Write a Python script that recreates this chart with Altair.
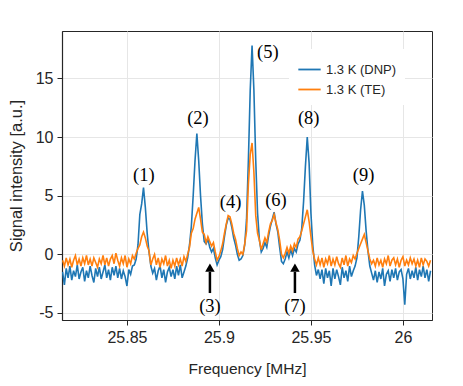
import altair as alt
import pandas as pd

# ---- data ----
freq_start = 25.815
freq_step = 0.001
n_points = 201
freq = [round(freq_start + i * freq_step, 4) for i in range(n_points)]

series_names = ["1.3 K (DNP)", "1.3 K (TE)"]
series_colors = ["#1f77b4", "#ff7f0e"]

dnp = (
    [-1.5, -2.6, -1.2, -2.0, -1.0, -2.2, -1.4, -1.9, -0.9, -2.1]
    + [-1.5, -1.1, -2.3, -1.4, -2.0, -1.0, -1.8, -2.4, -1.2, -1.9]
    + [-1.1, -2.1, -1.5, -0.9, -2.0, -1.3, -2.2, -1.1, -1.8, -1.0]
    + [-2.0, -1.2, -2.1, -1.4, -1.9, -2.7, -1.3, -1.7, -1.0, -0.9]
    + [-0.4, 0.8, 3.4, 4.3, 5.7, 4.0, 1.8, 0.2, -1.0, -1.6]
    + [-1.2, -2.2, -1.4, -1.0, -2.0, -1.3, -2.4, -1.5, -1.1, -1.9]
    + [-1.3, -2.1, -1.0, -1.8, -0.9, -2.0, -1.5, -1.0, -0.3, 0.8]
    + [2.4, 5.0, 8.0, 10.3, 8.0, 5.0, 2.6, 1.1, 0.9, 1.3]
    + [0.6, 0.2, 0.5, -0.3, -0.9, -0.5, -0.2, 0.4, 1.5, 2.5]
    + [3.1, 3.0, 2.3, 1.4, 0.8, 0.0, -0.5, -0.4, -0.1, 0.8]
    + [3.0, 8.0, 14.0, 17.8, 14.0, 8.0, 3.5, 1.2, 0.2, 0.5]
    + [1.0, 0.6, 1.6, 2.4, 3.0, 3.6, 2.6, 1.9, 0.6, -0.6]
    + [-0.8, -0.4, 0.2, -0.3, 0.4, -0.1, 0.5, 0.2, 0.9, 1.2]
    + [2.2, 4.5, 7.5, 10.0, 7.8, 3.5, 0.8, -0.9, -1.8, -1.3]
    + [-2.1, -1.3, -2.5, -1.2, -2.0, -1.4, -2.7, -1.2, -2.1, -1.3]
    + [-1.9, -2.6, -1.1, -2.0, -1.4, -2.3, -1.0, -1.9, -1.4, -1.0]
    + [-0.3, 1.5, 3.8, 5.4, 4.2, 2.0, 0.3, -1.0, -1.6, -2.2]
    + [-1.4, -2.4, -1.5, -2.1, -1.2, -2.7, -1.7, -1.4, -2.3, -1.3]
    + [-2.0, -1.2, -2.2, -1.5, -1.3, -2.1, -4.3, -1.7, -1.2, -2.1]
    + [-1.4, -2.0, -1.1, -2.2, -1.3, -1.9, -1.0, -2.0, -1.3, -2.3, -1.4]
)

te = (
    [-0.5, -1.0, -0.3, -0.9, -0.4, -1.1, -0.5, -0.1, -0.9, -0.4]
    + [-1.0, -0.3, -0.8, -0.1, -0.9, -0.4, -1.0, -0.3, -0.7, -1.1]
    + [-0.4, -0.8, -0.1, -0.9, -0.3, -1.0, -0.4, -0.1, -0.8, 0.1]
    + [-0.5, -1.0, -0.3, -0.8, -0.1, -1.1, -0.4, -0.8, -0.1, -0.4]
    + [0.1, 0.5, 0.8, 1.5, 1.9, 1.4, 0.7, 0.3, -0.9, -0.4]
    + [0.0, -0.9, -0.3, -1.1, -0.4, -0.8, -0.1, -1.0, -0.5, -1.2]
    + [-0.5, -1.0, -0.3, -0.9, -0.4, -1.0, -0.2, -0.6, 0.0, 0.6]
    + [1.8, 2.2, 3.0, 3.5, 4.0, 3.0, 1.9, 1.7, 1.0, 1.5]
    + [1.1, 0.7, 1.0, 0.2, -0.5, -0.2, 0.3, 0.9, 1.8, 2.6]
    + [3.3, 3.2, 2.6, 1.8, 1.3, 0.5, -0.1, 0.2, 0.0, 0.9]
    + [2.0, 6.0, 8.5, 9.5, 7.0, 3.3, 1.8, 1.2, 0.4, 0.9]
    + [1.4, 1.0, 1.9, 2.6, 2.9, 3.4, 2.7, 2.1, 1.2, 0.0]
    + [-0.3, 0.1, 0.6, 0.1, 0.7, 0.3, 0.9, 0.6, 1.3, 1.5]
    + [2.0, 2.6, 3.2, 3.8, 2.8, 1.5, 0.3, -0.4, -0.9, -0.3]
    + [-0.9, -0.3, -1.1, -0.4, -0.8, -0.1, -1.0, -0.4, -0.9, -0.2]
    + [-0.8, -1.1, -0.3, -0.9, -0.1, -1.0, -0.4, -0.7, -0.1, -0.4]
    + [0.1, 0.5, 0.9, 1.3, 1.7, 1.0, 0.3, -0.4, -0.8, -0.5]
    + [-1.0, -0.3, -0.9, -0.5, -1.1, -0.4, -0.8, -0.1, -1.0, -0.5]
    + [-0.3, -0.9, -0.4, -1.1, -0.5, -0.2, -1.0, -0.5, -0.9, -0.3]
    + [-0.8, -0.4, -1.0, -0.5, -1.1, -0.3, -0.9, -0.4, -0.6, -1.0, -0.5]
)

x_ticks = [25.85, 25.9, 25.95, 26]
y_ticks = [-5, 0, 5, 10, 15]

peak_labels = ["(1)", "(2)", "(3)", "(4)", "(5)", "(6)", "(7)", "(8)", "(9)"]
peak_label_x = [25.8592, 25.8886, 25.8951, 25.9063, 25.9266, 25.9310, 25.9413, 25.9488, 25.9786]
peak_label_y = [6.75, 11.6, -4.4, 4.5, 17.3, 4.6, -4.4, 11.6, 6.75]

arrow_x = [25.8951, 25.9413]
arrow_tail = [-3.3, -3.3]
arrow_neck = [-1.5, -1.5]
arrow_head = [-1.13, -1.13]

# ---- tables ----
n = min(len(freq), len(dnp), len(te))
df = pd.DataFrame(
    {
        "freq": freq[:n] * 2,
        "value": dnp[:n] + te[:n],
        "series": [series_names[0]] * n + [series_names[1]] * n,
    }
)
labels_df = pd.DataFrame({"x": peak_label_x, "y": peak_label_y, "t": peak_labels})
arrows_df = pd.DataFrame({"x": arrow_x, "y1": arrow_tail, "y2": arrow_neck, "yh": arrow_head})

x_scale = alt.Scale(domain=[25.8147, 26.0158], nice=False, zero=False)
y_scale = alt.Scale(domain=[-5.6, 19.05], nice=False, zero=False)

lines = alt.Chart(df).mark_line(strokeWidth=1.6, clip=True).encode(
    x=alt.X(
        "freq:Q",
        scale=x_scale,
        axis=alt.Axis(values=x_ticks, title="Frequency [MHz]", labelExpr="'' + datum.value",
                      titleFontSize=15.5, labelFontSize=16),
    ),
    y=alt.Y(
        "value:Q",
        scale=y_scale,
        axis=alt.Axis(values=y_ticks, title="Signal intensity [a.u.]", labelExpr="'' + datum.value",
                      titleFontSize=16.5, labelFontSize=16),
    ),
    color=alt.Color(
        "series:N",
        scale=alt.Scale(domain=series_names, range=series_colors),
        legend=alt.Legend(
            title=None,
            orient="none",
            legendX=227,
            legendY=18,
            fillColor="white",
            padding=8,
            symbolType="stroke",
            symbolSize=500,
            symbolStrokeWidth=1.8,
            labelFontSize=13,
            labelFont="Liberation Sans",
            labelColor="#262626",
            labelOffset=4,
            rowPadding=0,
        ),
    ),
)

shafts = alt.Chart(arrows_df).mark_rule(strokeWidth=2.5, color="black").encode(
    x=alt.X("x:Q", scale=x_scale), y=alt.Y("y1:Q", scale=y_scale), y2="y2:Q"
)
heads = alt.Chart(arrows_df).mark_point(
    shape="triangle-up", filled=True, size=90, color="black", opacity=1
).encode(x=alt.X("x:Q", scale=x_scale), y=alt.Y("yh:Q", scale=y_scale))

texts = alt.Chart(labels_df).mark_text(
    font="Liberation Serif", fontSize=18.5, color="black"
).encode(x=alt.X("x:Q", scale=x_scale), y=alt.Y("y:Q", scale=y_scale), text="t:N")

chart = (
    alt.layer(lines, shafts, heads, texts)
    .properties(
        width=370,
        height=289,
        autosize=alt.AutoSizeParams(type="none"),
        padding={"left": 54, "top": 23, "right": 23, "bottom": 58},
    )
    .configure_view(stroke="#262626", strokeWidth=1)
    .configure_axis(
        labelFont="Liberation Sans",
        titleFont="Liberation Sans",
        titleFontWeight="normal",
        labelColor="#262626",
        titleColor="#262626",
        gridColor="#e6e6e6",
        gridWidth=1,
        domainColor="#262626",
        domainWidth=1.2,
        tickColor="#262626",
        tickSize=5,
    )
    .configure_axisX(labelPadding=4, titlePadding=16)
    .configure_axisY(labelPadding=4, titlePadding=11)
)

chart.save("out.html", embed_options={"renderer": "svg", "actions": False})
